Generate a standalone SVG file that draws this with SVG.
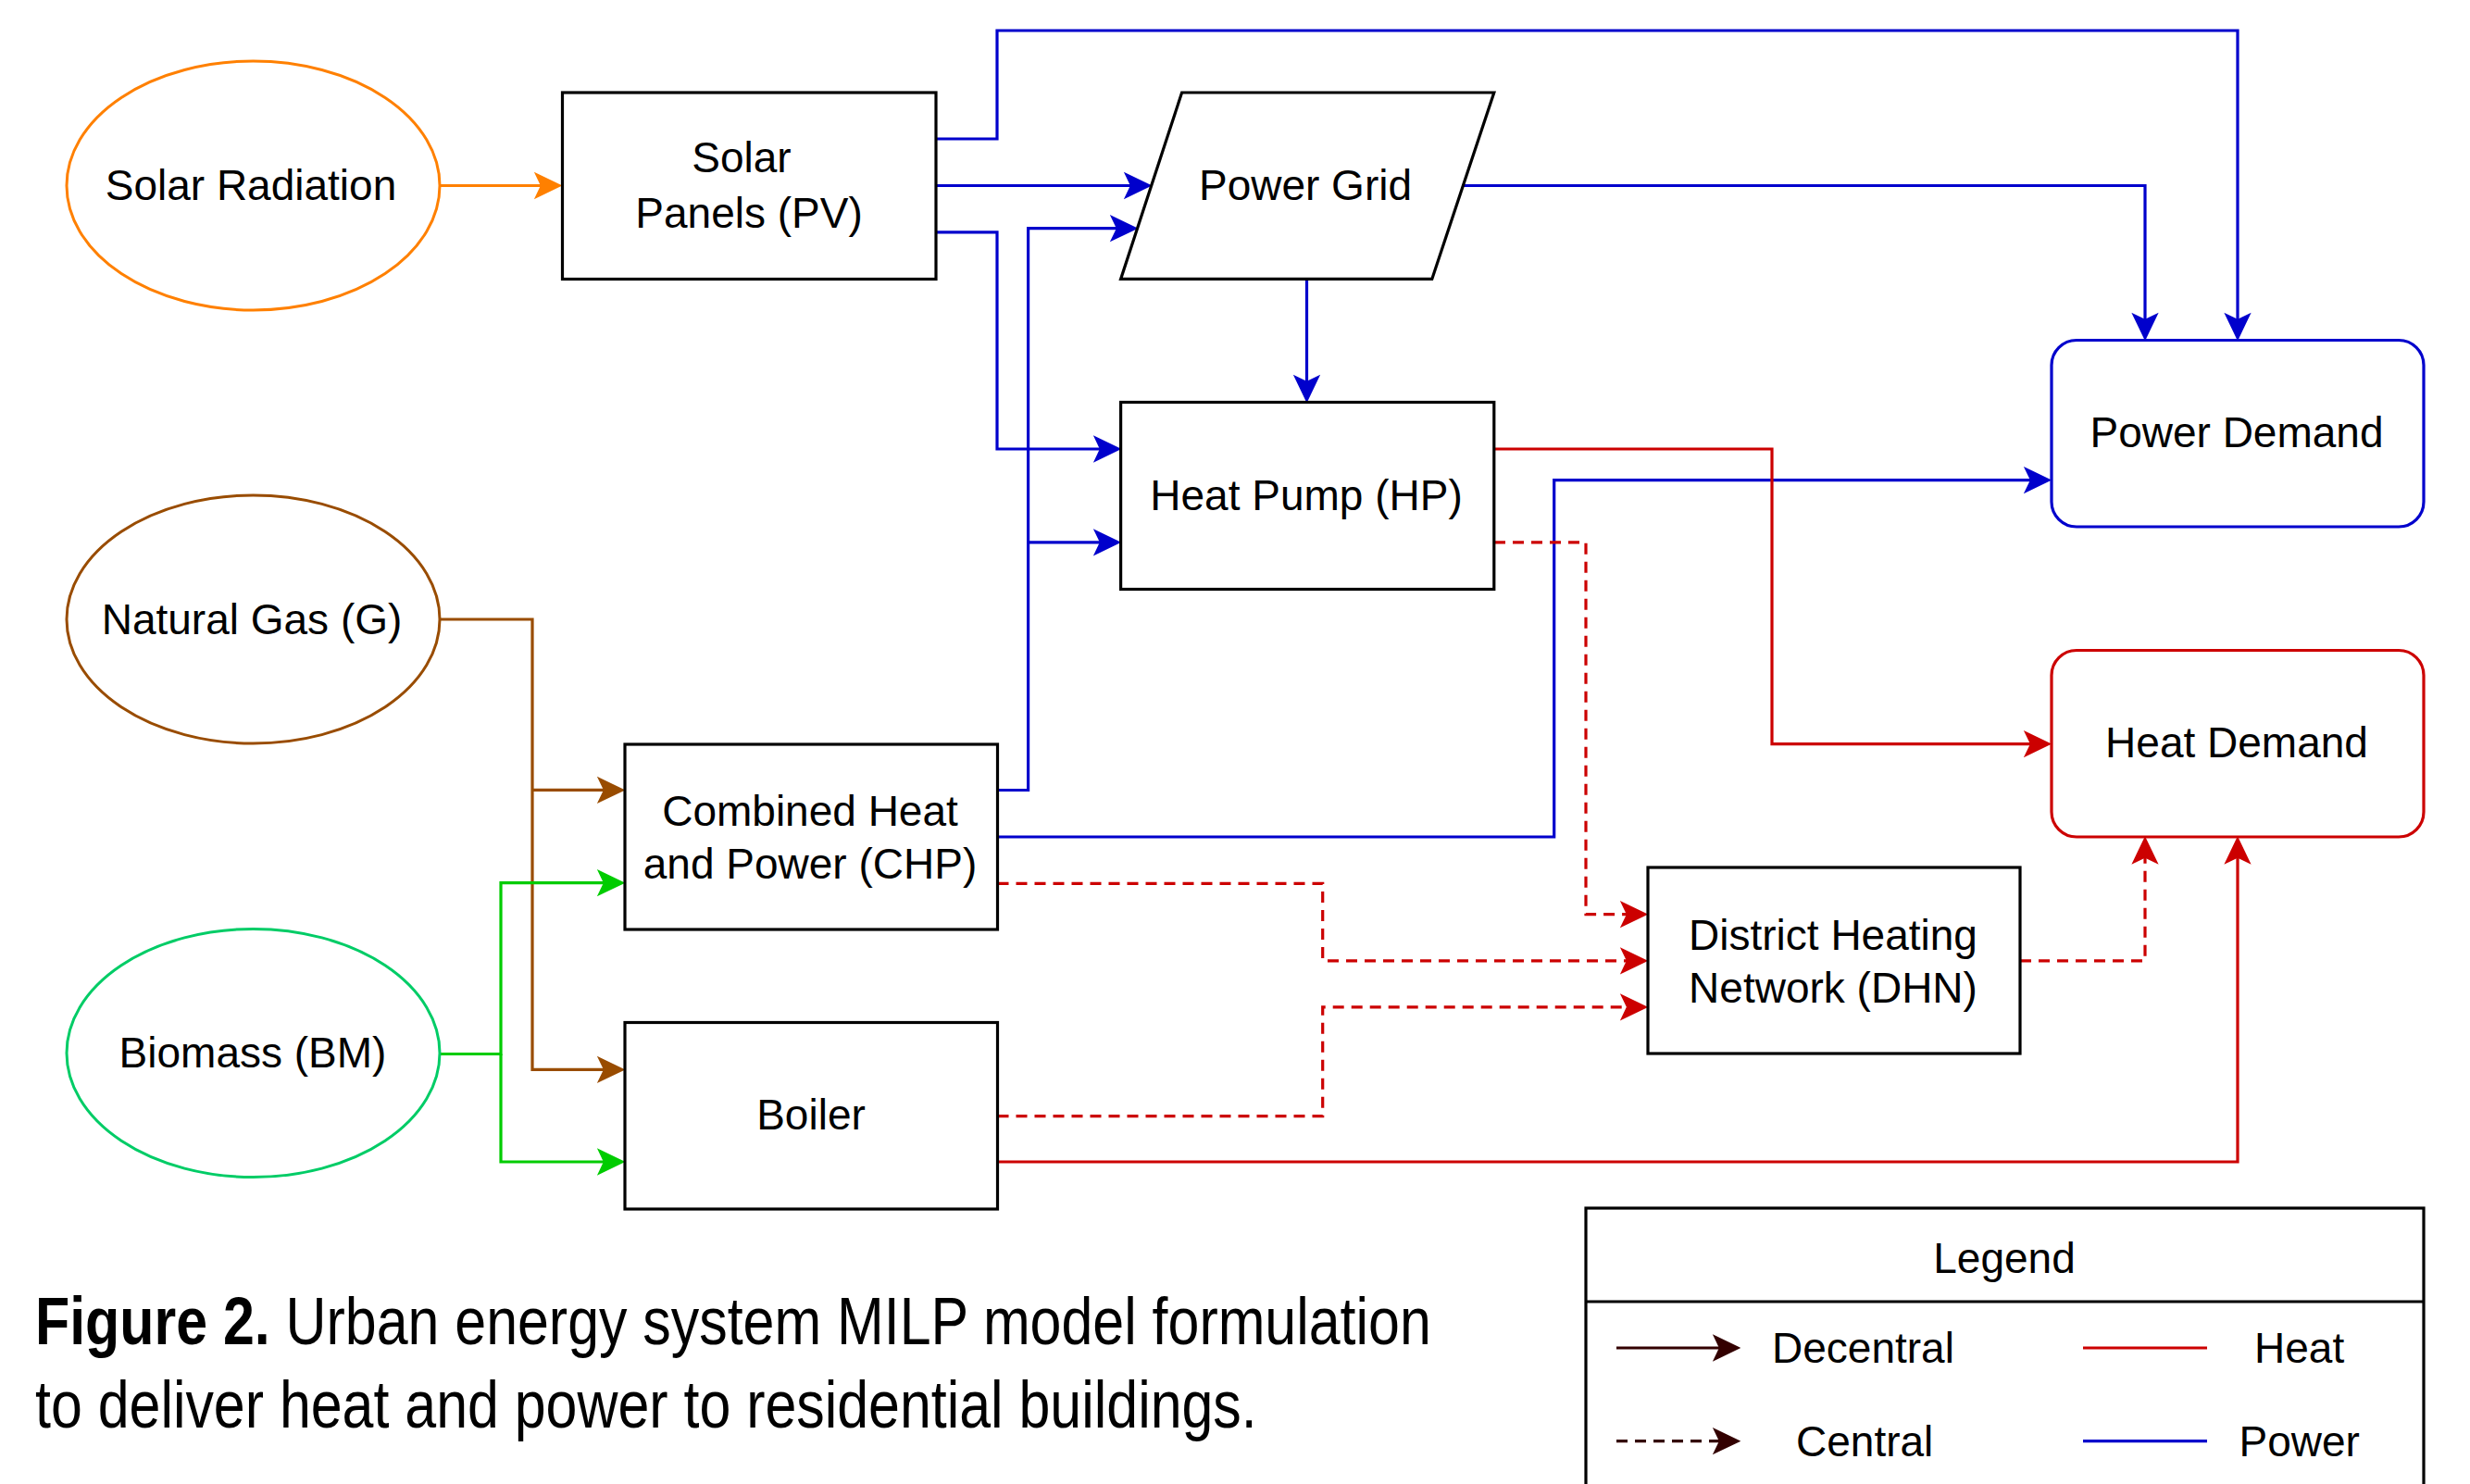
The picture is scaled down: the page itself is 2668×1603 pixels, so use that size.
<svg xmlns="http://www.w3.org/2000/svg" width="2668" height="1603" viewBox="0 0 2668 1603">
<style>
text{font-family:"Liberation Sans",Arial,Helvetica,sans-serif;font-size:46px;fill:#000}
.c{text-anchor:middle}
.box{fill:#fff;stroke:#000;stroke-width:3.2}
.ln{fill:none;stroke-width:3.2}
.b{stroke:#0000CC}
.r{stroke:#CC0000}
.d{stroke-dasharray:12 8}
</style>
<defs>
<marker id="aB" markerUnits="userSpaceOnUse" viewBox="-22 -17 36 34" markerWidth="36" markerHeight="34" refX="0" refY="0" orient="auto" overflow="visible"><path d="M10,0 L-16,-12.5 L-10,0 L-16,12.5 Z" fill="#0000CC" stroke="#0000CC" stroke-width="2"/></marker>
<marker id="aR" markerUnits="userSpaceOnUse" viewBox="-22 -17 36 34" markerWidth="36" markerHeight="34" refX="0" refY="0" orient="auto" overflow="visible"><path d="M10,0 L-16,-12.5 L-10,0 L-16,12.5 Z" fill="#CC0000" stroke="#CC0000" stroke-width="2"/></marker>
<marker id="aO" markerUnits="userSpaceOnUse" viewBox="-22 -17 36 34" markerWidth="36" markerHeight="34" refX="0" refY="0" orient="auto" overflow="visible"><path d="M10,0 L-16,-12.5 L-10,0 L-16,12.5 Z" fill="#FF8000" stroke="#FF8000" stroke-width="2"/></marker>
<marker id="aN" markerUnits="userSpaceOnUse" viewBox="-22 -17 36 34" markerWidth="36" markerHeight="34" refX="0" refY="0" orient="auto" overflow="visible"><path d="M10,0 L-16,-12.5 L-10,0 L-16,12.5 Z" fill="#994C00" stroke="#994C00" stroke-width="2"/></marker>
<marker id="aG" markerUnits="userSpaceOnUse" viewBox="-22 -17 36 34" markerWidth="36" markerHeight="34" refX="0" refY="0" orient="auto" overflow="visible"><path d="M10,0 L-16,-12.5 L-10,0 L-16,12.5 Z" fill="#00CC00" stroke="#00CC00" stroke-width="2"/></marker>
<marker id="aK" markerUnits="userSpaceOnUse" viewBox="-22 -17 36 34" markerWidth="36" markerHeight="34" refX="0" refY="0" orient="auto" overflow="visible"><path d="M10,0 L-16,-12.5 L-10,0 L-16,12.5 Z" fill="#330000" stroke="#330000" stroke-width="2"/></marker>
</defs>
<rect width="2668" height="1603" fill="#fff"/>

<g id="connectors">
<path class="ln" stroke="#FF8000" d="M475,200.5 H595" marker-end="url(#aO)"/>
<path class="ln b" d="M1011,150 H1077 V33 H2417 V356" marker-end="url(#aB)"/>
<path class="ln b" d="M1011,200.5 H1232" marker-end="url(#aB)"/>
<path class="ln b" d="M1011,250.8 H1077 V485 H1199" marker-end="url(#aB)"/>
<path class="ln b" d="M1580,200.5 H2317 V356" marker-end="url(#aB)"/>
<path class="ln b" d="M1411.5,301.5 V423" marker-end="url(#aB)"/>
<path class="ln b" d="M1077.5,853.5 H1110.6 V246.7 H1217" marker-end="url(#aB)"/>
<path class="ln b" d="M1110.6,585.8 H1199" marker-end="url(#aB)"/>
<path class="ln b" d="M1077.5,904 H1678.7 V518.6 H2204" marker-end="url(#aB)"/>
<path class="ln r" d="M1614,485 H1914 V803.6 H2204" marker-end="url(#aR)"/>
<path class="ln r d" d="M1614,585.8 H1713 V987.7 H1768" marker-end="url(#aR)"/>
<path class="ln r d" d="M1077.5,954.3 H1428.7 V1037.8 H1768" marker-end="url(#aR)"/>
<path class="ln r d" d="M1077.5,1205.6 H1428.7 V1087.8 H1768" marker-end="url(#aR)"/>
<path class="ln r d" d="M2182,1037.8 H2317 V915.5" marker-end="url(#aR)"/>
<path class="ln r" d="M1077.5,1255 H2417 V915.5" marker-end="url(#aR)"/>
<path class="ln" stroke="#994C00" d="M475,669 H575 V1155.4 H663" marker-end="url(#aN)"/>
<path class="ln" stroke="#994C00" d="M575,853.4 H663" marker-end="url(#aN)"/>
<path class="ln" stroke="#00CC00" d="M475,1138.5 H541 V953.7 H663" marker-end="url(#aG)"/>
<path class="ln" stroke="#00CC00" d="M541,1138.5 V1255 H663" marker-end="url(#aG)"/>
</g>

<g id="solar-radiation">
<ellipse cx="273.5" cy="200.5" rx="201.5" ry="134.5" fill="#fff" stroke="#FF8000" stroke-width="3"/>
<text class="c" x="271" y="215.5">Solar Radiation</text>
</g>
<g id="solar-panels">
<rect class="box" x="607.5" y="100" width="403.5" height="201.5"/>
<text class="c" x="801" y="185.5">Solar</text>
<text class="c" x="809" y="245.5">Panels (PV)</text>
</g>
<g id="power-grid">
<polygon class="box" points="1276.6,100 1613.8,100 1546.8,301.4 1210.6,301.4"/>
<text class="c" x="1410" y="215.5">Power Grid</text>
</g>
<g id="heat-pump">
<rect class="box" x="1210.6" y="434.5" width="403.2" height="202"/>
<text class="c" x="1411" y="550.5">Heat Pump (HP)</text>
</g>
<g id="power-demand">
<rect x="2216" y="367.5" width="402" height="201.5" rx="27" ry="27" fill="#fff" stroke="#0000CC" stroke-width="3.2"/>
<text class="c" x="2416" y="483">Power Demand</text>
</g>
<g id="natural-gas">
<ellipse cx="273.5" cy="669" rx="201.5" ry="134" fill="#fff" stroke="#994C00" stroke-width="3"/>
<text class="c" x="272" y="684.5">Natural Gas (G)</text>
</g>
<g id="chp">
<rect class="box" x="675" y="804" width="402.5" height="200"/>
<text class="c" x="875" y="891.5">Combined Heat</text>
<text class="c" x="875" y="949">and Power (CHP)</text>
</g>
<g id="biomass">
<ellipse cx="273.5" cy="1137.5" rx="201.5" ry="134" fill="#fff" stroke="#00CC66" stroke-width="3"/>
<text class="c" x="273" y="1153">Biomass (BM)</text>
</g>
<g id="boiler">
<rect class="box" x="675" y="1104.5" width="402.5" height="201.5"/>
<text class="c" x="876" y="1220">Boiler</text>
</g>
<g id="dhn">
<rect class="box" x="1780" y="937" width="402" height="201"/>
<text class="c" x="1980" y="1025.5">District Heating</text>
<text class="c" x="1980" y="1082.5">Network (DHN)</text>
</g>
<g id="heat-demand">
<rect x="2216" y="702.5" width="402" height="201.5" rx="27" ry="27" fill="#fff" stroke="#CC0000" stroke-width="3.2"/>
<text class="c" x="2416" y="817.5">Heat Demand</text>
</g>

<g id="legend">
<rect x="1713" y="1305" width="905" height="320" fill="#fff" stroke="#000" stroke-width="3.2"/>
<line x1="1713" y1="1406" x2="2618" y2="1406" stroke="#000" stroke-width="3.2"/>
<text class="c" x="2165" y="1375">Legend</text>
<path class="ln" stroke="#330000" d="M1746,1456 H1868" marker-end="url(#aK)"/>
<text x="1914" y="1472">Decentral</text>
<path class="ln d" stroke="#330000" d="M1746,1556.7 H1868" marker-end="url(#aK)"/>
<text x="1940" y="1572.7">Central</text>
<path class="ln r" d="M2250,1456 H2384"/>
<text x="2435" y="1472">Heat</text>
<path class="ln b" d="M2250,1556.7 H2384"/>
<text x="2418.5" y="1572.7">Power</text>
</g>

<g id="caption">
<text transform="translate(38,1451.5) scale(0.834,1)" style="font-size:73px"><tspan font-weight="bold">Figure 2.</tspan> Urban energy system MILP model formulation</text>
<text transform="translate(38,1541.5) scale(0.834,1)" style="font-size:73px">to deliver heat and power to residential buildings.</text>
</g>
</svg>
